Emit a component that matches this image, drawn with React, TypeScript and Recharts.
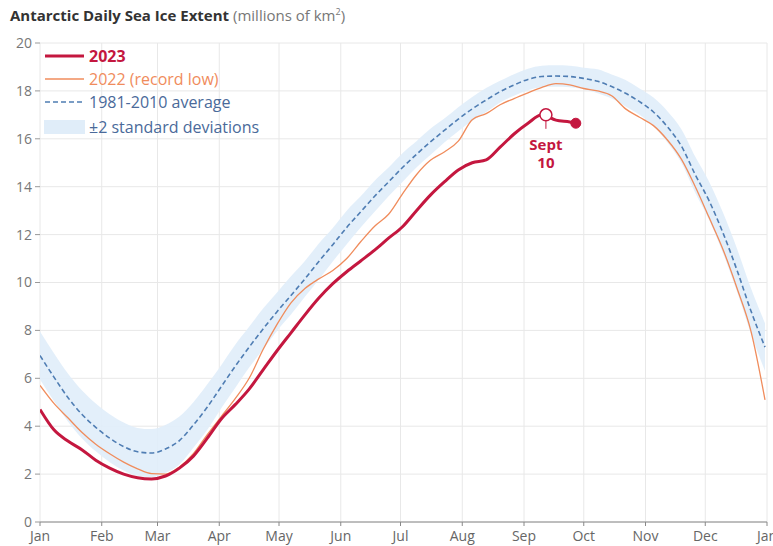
import React from "react";
import {
  ComposedChart,
  Line,
  Area,
  XAxis,
  YAxis,
  CartesianGrid,
  ReferenceDot,
} from "recharts";

// ---- data ----
const monthStarts = [0, 31, 59, 90, 120, 151, 181, 212, 243, 273, 304, 334, 365];
const monthLabels = ["Jan", "Feb", "Mar", "Apr", "May", "Jun", "Jul", "Aug", "Sep", "Oct", "Nov", "Dec", "Jan"];
const yTicks = [0, 2, 4, 6, 8, 10, 12, 14, 16, 18, 20];

const gridDays = [
  0, 7, 14, 21, 28, 35, 42, 49, 56, 63, 70, 77, 84, 91, 98, 105, 112, 119, 126, 133,
  140, 147, 154, 161, 168, 175, 182, 189, 196, 203, 210, 217, 224, 231, 238, 245, 252, 259, 266, 273,
  280, 287, 294, 301, 308, 315, 322, 329, 336, 343, 350, 357, 364,
];

const average = [
  6.95, 6.05, 5.2, 4.5, 3.95, 3.5, 3.15, 2.93, 2.88, 3.05, 3.4, 4.05, 4.8, 5.65, 6.5, 7.3, 8.06, 8.78, 9.46, 10.15,
  10.88, 11.58, 12.3, 12.95, 13.6, 14.2, 14.8, 15.35, 15.87, 16.35, 16.82, 17.25, 17.62, 17.97, 18.25, 18.48, 18.6, 18.62, 18.6, 18.52,
  18.4, 18.18, 17.9, 17.55, 17.12, 16.5, 15.7, 14.5, 13.4, 12.05, 10.5, 8.8, 7.3,
];

const twoStdDev = [
  1.0, 1.0, 1.0, 1.0, 1.0, 1.0, 1.0, 1.0, 1.0, 1.0, 1.0, 0.95, 0.95, 0.9, 0.9, 0.85, 0.85, 0.8, 0.8, 0.75,
  0.75, 0.7, 0.7, 0.65, 0.65, 0.6, 0.6, 0.55, 0.55, 0.5, 0.5, 0.5, 0.5, 0.45, 0.45, 0.45, 0.45, 0.45, 0.45, 0.45,
  0.5, 0.5, 0.55, 0.55, 0.6, 0.65, 0.7, 0.75, 0.8, 0.85, 0.9, 0.95, 1.0,
];

const extent2022 = [
  5.7, 4.95, 4.35, 3.75, 3.25, 2.85, 2.5, 2.22, 2.02, 2.0, 2.3, 2.85, 3.65, 4.4, 5.15, 6.0, 7.2, 8.25, 9.15, 9.75,
  10.15, 10.5, 11.0, 11.7, 12.35, 12.85, 13.7, 14.5, 15.1, 15.45, 15.9, 16.8, 17.05, 17.42, 17.68, 17.92, 18.15, 18.3, 18.25, 18.1,
  18.0, 17.8, 17.25, 16.9, 16.55, 15.95, 15.15, 14.0, 12.7, 11.36, 9.75, 7.95, 5.1,
];

const days2023 = [
  0, 7, 14, 21, 28, 35, 42, 49, 56, 63, 70, 77, 84, 91, 98, 105, 112, 119, 126, 133,
  140, 147, 154, 161, 168, 175, 182, 189, 196, 203, 210, 217, 224, 231, 238, 245, 252, 259, 266, 269,
];
const extent2023 = [
  4.7, 3.85, 3.38, 3.02, 2.58, 2.25, 2.0, 1.85, 1.8, 1.92, 2.25, 2.75, 3.5, 4.3, 4.9, 5.55, 6.35, 7.15, 7.9, 8.65,
  9.35, 9.95, 10.45, 10.9, 11.35, 11.85, 12.33, 13.0, 13.65, 14.2, 14.7, 15.0, 15.12, 15.65, 16.2, 16.65, 17.0, 16.78, 16.7, 16.65,
];

const sept10Day = 254;
const sept10Value = 17.0;

// ---- build table ----
type Row = { day: number; avg?: number; band?: [number, number]; y2022?: number; y2023?: number };
const rowMap = new Map<number, Row>();
gridDays.forEach((d, i) => {
  rowMap.set(d, {
    day: d,
    avg: average[i],
    band: [average[i] - twoStdDev[i], average[i] + twoStdDev[i]],
    y2022: extent2022[i],
  });
});
days2023.forEach((d, i) => {
  const r = rowMap.get(d) || { day: d };
  r.y2023 = extent2023[i];
  rowMap.set(d, r);
});
const data = Array.from(rowMap.values()).sort((a, b) => a.day - b.day);

const RED = "#c4173f";
const ORANGE = "#f08c5c";
const BLUE = "#4f7db3";
const BAND = "#e0edf9";
const FONT = "'Open Sans', 'Noto Sans', sans-serif";

const SeptMarker = (props: any) => {
  const { cx, cy } = props;
  if (cx == null || cy == null) return null;
  return (
    <g>
      <line x1={cx} y1={cy + 6} x2={cx} y2={cy + 14} stroke={RED} strokeWidth={1} />
      <circle cx={cx} cy={cy} r={6} fill="#fff" stroke={RED} strokeWidth={1.5} />
      <text x={cx} y={cy + 35} textAnchor="middle" fontWeight={700} fontSize={15} fill={RED} fontFamily={FONT}>
        Sept
      </text>
      <text x={cx} y={cy + 53} textAnchor="middle" fontWeight={700} fontSize={15} fill={RED} fontFamily={FONT}>
        10
      </text>
    </g>
  );
};

export default function App() {
  return (
    <div
      style={{
        position: "absolute",
        left: 0,
        top: 0,
        width: 773,
        height: 546,
        background: "#fff",
        fontFamily: FONT,
        overflow: "hidden",
      }}
    >
      <ComposedChart width={773} height={546} data={data} margin={{ top: 43, right: 6, bottom: 0, left: 0 }}>
        <CartesianGrid stroke="#e8e8e8" strokeWidth={1} />
        <XAxis
          type="number"
          dataKey="day"
          domain={[0, 365]}
          ticks={monthStarts}
          interval={0}
          height={24}
          tickFormatter={(v: number) => monthLabels[monthStarts.indexOf(v)]}
          stroke="#888"
          tickSize={4}
          tickMargin={5}
          tick={{ fill: "#666", fontSize: 14 }}
          allowDataOverflow
        />
        <YAxis
          type="number"
          domain={[0, 20]}
          ticks={yTicks}
          interval={0}
          width={40}
          axisLine={false}
          tickLine={{ stroke: "#999" }}
          tickSize={5}
          tickMargin={3}
          tick={{ fill: "#777", fontSize: 14 }}
        />
        <Area
          dataKey="band"
          stroke="none"
          fill={BAND}
          fillOpacity={0.9}
          connectNulls
          isAnimationActive={false}
          type="monotone"
        />
        <Line
          dataKey="avg"
          stroke={BLUE}
          strokeWidth={1.6}
          strokeDasharray="5 3"
          dot={false}
          connectNulls
          type="monotone"
          isAnimationActive={false}
        />
        <Line
          dataKey="y2022"
          stroke={ORANGE}
          strokeWidth={1.3}
          dot={false}
          connectNulls
          type="monotone"
          isAnimationActive={false}
        />
        <Line
          dataKey="y2023"
          stroke={RED}
          strokeWidth={3}
          dot={false}
          connectNulls
          type="monotone"
          isAnimationActive={false}
        />
        <ReferenceDot x={269} y={16.65} r={5} fill={RED} stroke={RED} />
        <ReferenceDot x={sept10Day} y={sept10Value} shape={SeptMarker} />
      </ComposedChart>

      {/* title */}
      <div style={{ position: "absolute", left: 10, top: 5, fontSize: 15, color: "#333", whiteSpace: "nowrap" }}>
        <span style={{ fontWeight: 700 }}>Antarctic Daily Sea Ice Extent</span>{" "}
        <span style={{ color: "#777" }}>
          (millions of km<sup style={{ fontSize: 9 }}>2</sup>)
        </span>
      </div>

      {/* legend */}
      <div style={{ position: "absolute", left: 44, top: 44, fontSize: 16, lineHeight: "24px" }}>
        <div style={{ display: "flex", alignItems: "center", height: 23 }}>
          <svg width={42} height={10}>
            <line x1={1} y1={5} x2={40} y2={5} stroke={RED} strokeWidth={3} />
          </svg>
          <span style={{ color: RED, fontWeight: 700, marginLeft: 3 }}>2023</span>
        </div>
        <div style={{ display: "flex", alignItems: "center", height: 23 }}>
          <svg width={42} height={10}>
            <line x1={1} y1={5} x2={40} y2={5} stroke={ORANGE} strokeWidth={1.5} />
          </svg>
          <span style={{ color: ORANGE, marginLeft: 3 }}>2022 (record low)</span>
        </div>
        <div style={{ display: "flex", alignItems: "center", height: 24 }}>
          <svg width={42} height={10}>
            <line x1={1} y1={5} x2={40} y2={5} stroke={BLUE} strokeWidth={1.6} strokeDasharray="5 3" />
          </svg>
          <span style={{ color: "#4a6a9a", marginLeft: 3 }}>1981-2010 average</span>
        </div>
        <div style={{ display: "flex", alignItems: "center", height: 25 }}>
          <svg width={42} height={16}>
            <rect x={0} y={1} width={41} height={14} fill={BAND} />
          </svg>
          <span style={{ color: "#4a6a9a", marginLeft: 3 }}>±2 standard deviations</span>
        </div>
      </div>
    </div>
  );
}
